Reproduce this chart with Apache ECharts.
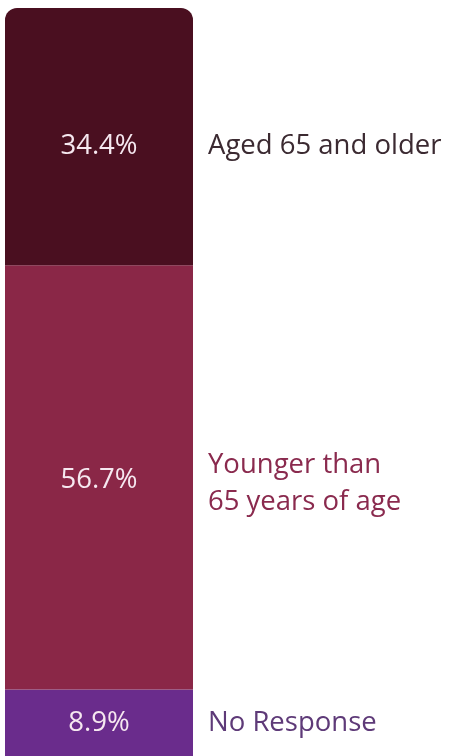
<!DOCTYPE html>
<html>
<head>
<meta charset="utf-8">
<script src="https://cdn.jsdelivr.net/npm/echarts@6/dist/echarts.min.js"></script>
<style>
  html, body { margin: 0; padding: 0; background: #ffffff; }
  #chart { width: 451px; height: 756px; }
</style>
</head>
<body>
<div id="chart"></div>
<script>
// Age breakdown of respondents, stacked top to bottom
const groups = ['Aged 65 and older', 'Younger than\n65 years of age', 'No Response'];
const shares = [34.4, 56.7, 8.9];
const barColors = ['#4a0f20', '#8a2747', '#6a2c8c'];
const nameColors = ['#3b2a31', '#8a2a4e', '#5e3a78'];
const valueShift = [[0, 10], [0, 3], [0, 0]];
const nameShift = [[0, 10], [0, 6], [0, 0]];

const chart = echarts.init(document.getElementById('chart'), null, { renderer: 'canvas' });

// Stack order: bottom segment first, so reverse the top-to-bottom list
const order = [2, 1, 0];
const series = [];
order.forEach(function (i) {
  const top = i === 0;
  series.push({
    type: 'bar',
    stack: 'bar',
    xAxisIndex: 0,
    yAxisIndex: 0,
    barWidth: '100%',
    data: [shares[i]],
    itemStyle: { color: barColors[i], borderRadius: top ? [12, 12, 0, 0] : 0 },
    label: {
      show: true,
      position: 'inside',
      offset: valueShift[i],
      formatter: function (p) { return p.value.toFixed(1) + '%'; },
      color: '#f6e8f0',
      fontFamily: 'Open Sans',
      fontSize: 27.5,
      fontWeight: 400
    },
    silent: true
  });
  // transparent twin stack in the right-hand grid carries the group names
  series.push({
    type: 'bar',
    stack: 'names',
    xAxisIndex: 1,
    yAxisIndex: 1,
    barWidth: '100%',
    data: [shares[i]],
    itemStyle: { color: 'rgba(0,0,0,0)' },
    label: {
      show: true,
      position: 'insideLeft',
      distance: 15,
      offset: nameShift[i],
      formatter: groups[i],
      color: nameColors[i],
      fontFamily: 'Open Sans',
      fontSize: 27.5,
      lineHeight: 37,
      align: 'left'
    },
    silent: true
  });
});

chart.setOption({
  animation: false,
  grid: [
    { left: 5, width: 188, top: 8, bottom: -4 },
    { left: 193, right: 0, top: 8, bottom: -4 }
  ],
  xAxis: [
    { type: 'category', gridIndex: 0, data: ['all'], show: false },
    { type: 'category', gridIndex: 1, data: ['all'], show: false }
  ],
  yAxis: [
    { type: 'value', gridIndex: 0, min: 0, max: 100, show: false },
    { type: 'value', gridIndex: 1, min: 0, max: 100, show: false }
  ],
  series: series
});
</script>
</body>
</html>
